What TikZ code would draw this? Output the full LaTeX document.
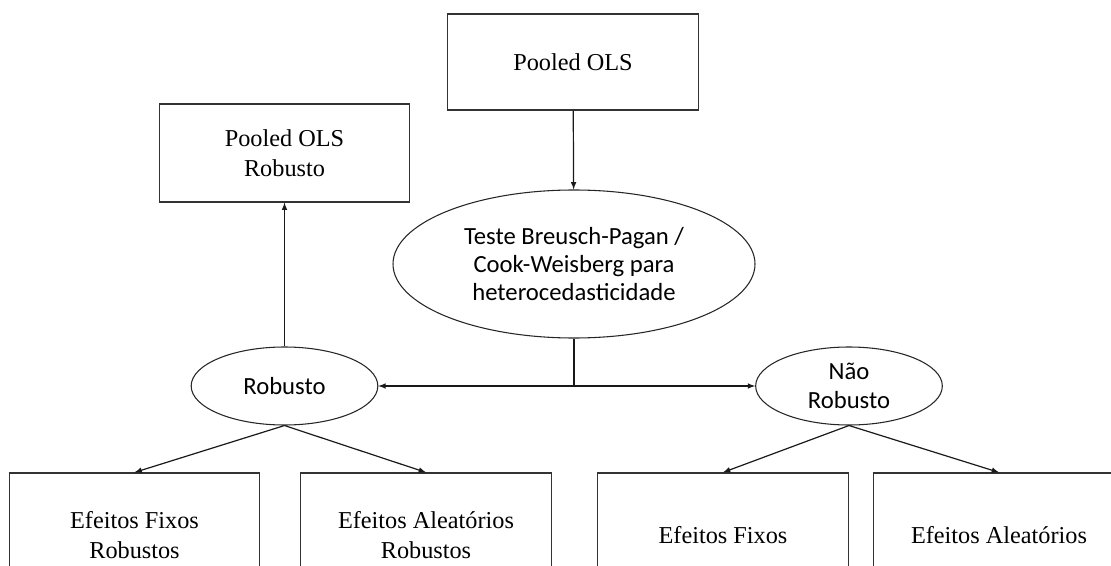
\documentclass[tikz,border=0pt]{standalone}
\usepackage{fontspec}
\setmainfont{Liberation Serif}
\newfontfamily\calibrifont{Carlito}
\usepackage{tikz}
\usetikzlibrary{%
  calc,
  positioning,
  shapes.geometric,
  arrows,
}

\begin{document}
\begin{tikzpicture}[x=0.75pt, y=0.75pt, >=latex,
    caixa/.style={draw=black!80, line width=0.9pt, rectangle,
      align=center, minimum width=188pt, inner sep=0pt,
      font=\fontsize{18.2}{22.5}\selectfont},
    oval/.style={draw=black!85, line width=0.8pt, ellipse,
      align=center, inner sep=0pt,
      font=\calibrifont\fontsize{18.5}{21.3}\selectfont},
    seta/.style={->, line width=0.9pt, black!90},
  ]
        % pixel grid of the reference, y upwards
        \useasboundingbox (0,0) rectangle (1111,565);
        \clip (0,0) rectangle (1111,565);

        \node[caixa, minimum height=72pt] (pooled) at (573,503) {Pooled OLS};
        \node[caixa, minimum height=73.5pt] (pooledrob) at (284.5,412)
          {Pooled OLS\\Robusto};

        \node[oval, minimum width=271.5pt, minimum height=111pt] (teste)
          at (574,301)
          {Teste Breusch-Pagan /\\Cook-Weisberg para\\heterocedasticidade};

        \node[oval, minimum width=140pt, minimum height=58.5pt] (rob)
          at (284.5,179) {Robusto};
        \node[oval, minimum width=140pt, minimum height=58.5pt] (naorob)
          at (849,179) {Não\\Robusto};

        \node[caixa, minimum height=93pt] (efr) at (134.5,30)
          {Efeitos Fixos\\Robustos};
        \node[caixa, minimum height=93pt] (ear) at (426,30)
          {Efeitos Aleatórios\\Robustos};
        \node[caixa, minimum height=93pt] (ef) at (723,30) {Efeitos Fixos};
        \node[caixa, minimum height=93pt] (ea) at (999,30)
          {Efeitos Aleatórios};

        \coordinate (split) at (teste.south |- rob.east);

        \draw[seta] (pooled) -- (teste);
        \draw[seta] (rob) -- (pooledrob);
        \draw[line width=0.9pt, black!90] (teste.south) -- (split);
        \draw[seta] (split) -- (rob.east);
        \draw[seta] (split) -- (naorob.west);

        \draw[seta] (rob.south) -- (efr.north);
        \draw[seta] (rob.south) -- (ear.north);
        \draw[seta] (naorob.south) -- (ef.north);
        \draw[seta] (naorob.south) -- (ea.north);
      \end{tikzpicture}
\end{document}
